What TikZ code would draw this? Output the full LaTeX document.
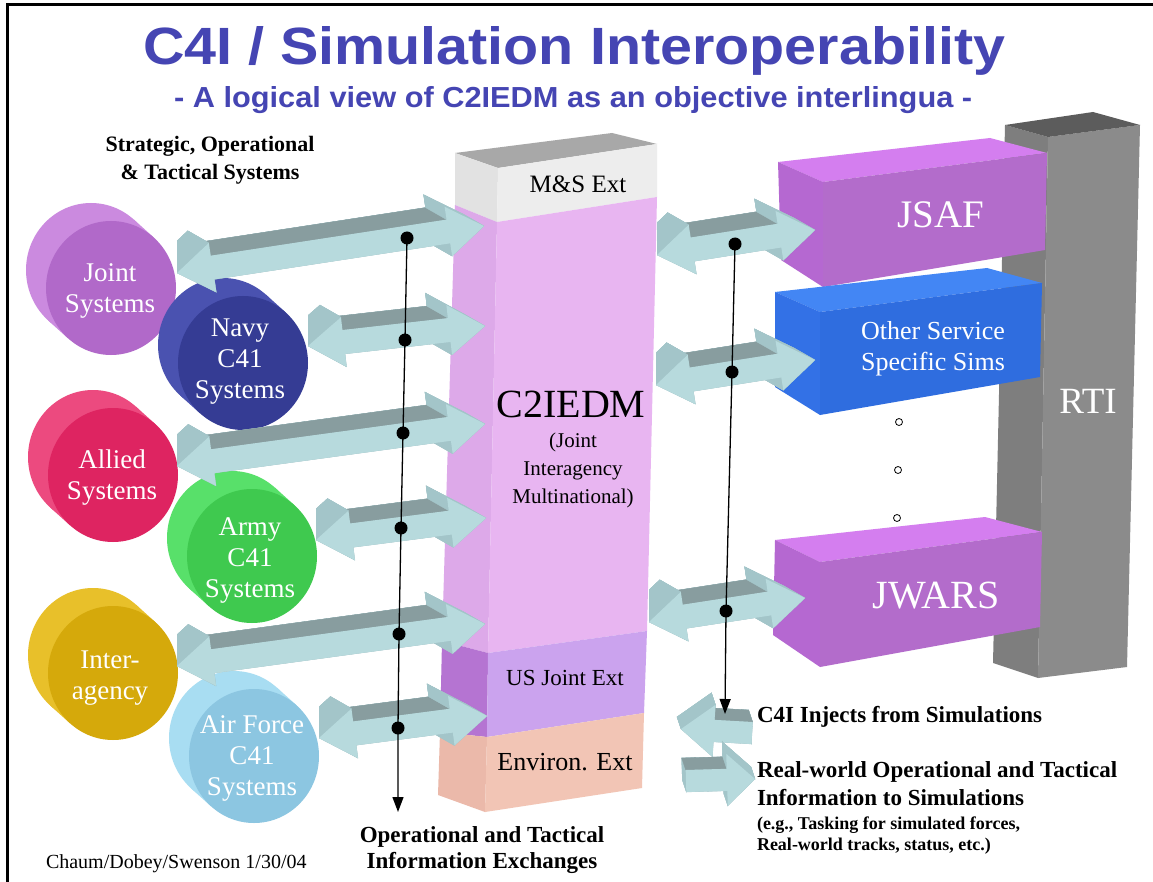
\documentclass[tikz,border=0pt]{standalone}
\usepackage{fontspec}
\setmainfont{Liberation Serif}
\newfontfamily\sansfont{Liberation Sans}
\usepackage{graphicx}
\usetikzlibrary{calc,arrows.meta}

\definecolor{titleblue}{HTML}{4545B3}
\definecolor{arfront}{HTML}{B7DADD}
\definecolor{arside}{HTML}{A3C5C9}
\definecolor{ardark}{HTML}{889D9F}
\definecolor{jointF}{HTML}{B169C9}\definecolor{jointS}{HTML}{CB8ADF}
\definecolor{navyF}{HTML}{353C94}\definecolor{navyS}{HTML}{4A52B0}
\definecolor{alliedF}{HTML}{DE2461}\definecolor{alliedS}{HTML}{EC4A7F}
\definecolor{armyF}{HTML}{3FC94F}\definecolor{armyS}{HTML}{58E06A}
\definecolor{interF}{HTML}{D5A90B}\definecolor{interS}{HTML}{E8C02A}
\definecolor{airF}{HTML}{8CC6E1}\definecolor{airS}{HTML}{A8DDF2}
\definecolor{msTop}{HTML}{A8A8A8}\definecolor{msSide}{HTML}{E2E2E2}\definecolor{msFront}{HTML}{EDEDED}
\definecolor{cSide}{HTML}{DDA9E9}\definecolor{cFront}{HTML}{E8B5F1}
\definecolor{uSide}{HTML}{B574D2}\definecolor{uFront}{HTML}{CBA3EE}
\definecolor{eSide}{HTML}{EBB9AA}\definecolor{eFront}{HTML}{F2C5B5}
\definecolor{jsTop}{HTML}{D47EEF}\definecolor{jsFront}{HTML}{B36CCB}\definecolor{jsSide}{HTML}{B568D1}
\definecolor{osTop}{HTML}{4386F4}\definecolor{osFront}{HTML}{2F6DDF}\definecolor{osSide}{HTML}{3371E6}
\definecolor{rtTop}{HTML}{5C5C5C}\definecolor{rtSide}{HTML}{7E7E7E}\definecolor{rtFront}{HTML}{8B8B8B}

\newcommand{\lns}[1]{\begin{tabular}[t]{@{}c@{}}#1\end{tabular}}
\newcommand{\lnsl}[1]{\begin{tabular}[t]{@{}l@{}}#1\end{tabular}}

\tikzset{
  txt/.style={inner sep=0pt, outer sep=0pt},
  disclabel/.style={txt, anchor=base, text=white, font={\fontsize{27}{31}\selectfont}},
  collabel/.style={txt, anchor=base, text=black},
  conn/.style={line width=1.3pt, draw=black},
  dotm/.style={fill=black},
  arf/.style={fill=arfront},
  ars/.style={fill=arside, draw=arside, line width=0.3pt},
  ard/.style={fill=ardark, draw=ardark, line width=0.3pt},
}

% double headed 3D block arrow from (#1,#2) to (#3,#4)
\newcommand{\dblarrow}[4]{%
  \pgfmathsetmacro{\adx}{#3-#1}%
  \pgfmathsetmacro{\ady}{#4-#2}%
  \pgfmathsetmacro{\alen}{10*veclen(\adx/10,\ady/10)}%
  \pgfmathsetmacro{\aang}{atan2(-\ady,\adx)}%
  \pgfmathsetmacro{\amid}{\alen-\ahl}%
  \begin{scope}
  \clip (#1,0) rectangle (1153,882);
  \begin{scope}[shift={(#1,#2)},rotate=\aang]
    \coordinate (q1) at (0,0);
    \coordinate (q2) at (\ahl,-\ahw);
    \coordinate (q3) at (\ahl,-\asw);
    \coordinate (q4) at (\amid,-\asw);
    \coordinate (q5) at (\amid,-\ahw);
    \coordinate (q6) at (\alen,0);
    \coordinate (q7) at (\amid,\ahw);
    \coordinate (q8) at (\amid,\asw);
    \coordinate (q9) at (\ahl,\asw);
    \coordinate (q10) at (\ahl,\ahw);
  \end{scope}
  \foreach \i in {1,...,10}{\coordinate (b\i) at ($(q\i)+(\asx,\asy)$);}
  \fill[ars] (b1)--(b2)--(b3)--(b4)--(b5)--(b6)--(b7)--(b8)--(b9)--(b10)--cycle;
  \foreach \i/\j in {1/2,2/3,3/4,4/5,5/6,6/7,7/8,8/9,9/10,10/1}{\fill[ars] (q\i)--(q\j)--(b\j)--(b\i)--cycle;}
  \fill[ard] (q3)--(q4)--(b4)--(b3)--cycle;
  \fill[ars] (q4)--(q5)--(b5)--(b4)--cycle;
  \fill[ars] (q1)--(q2)--(b2)--(b1)--cycle;
  \fill[arf] (q1)--(q2)--(q3)--(q4)--(q5)--(q6)--(q7)--(q8)--(q9)--(q10)--cycle;
  \end{scope}
}

% single headed 3D block arrow, head at (#3,#4); #5 = 1 (rightward) or -1 (leftward)
\newcommand{\sglarrow}[5]{%
  \pgfmathsetmacro{\adx}{#3-#1}%
  \pgfmathsetmacro{\ady}{#4-#2}%
  \pgfmathsetmacro{\alen}{10*veclen(\adx/10,\ady/10)}%
  \pgfmathsetmacro{\aang}{atan2(-\ady,\adx)}%
  \pgfmathsetmacro{\amid}{\alen-\ahl}%
  \pgfmathsetmacro{\vs}{(#5)*\asw}\pgfmathsetmacro{\nvs}{-1*(#5)*\asw}%
  \pgfmathsetmacro{\vh}{(#5)*\ahw}\pgfmathsetmacro{\nvh}{-1*(#5)*\ahw}%
  \begin{scope}[shift={(#1,#2)},rotate=\aang]
    \coordinate (q1) at (0,\nvs);
    \coordinate (q2) at (\amid,\nvs);
    \coordinate (q3) at (\amid,\nvh);
    \coordinate (q4) at (\alen,0);
    \coordinate (q5) at (\amid,\vh);
    \coordinate (q6) at (\amid,\vs);
    \coordinate (q7) at (0,\vs);
  \end{scope}
  \foreach \i in {1,...,7}{\coordinate (b\i) at ($(q\i)+(\asx,\asy)$);}
  \fill[ars] (b1)--(b2)--(b3)--(b4)--(b5)--(b6)--(b7)--cycle;
  \foreach \i/\j in {1/2,2/3,3/4,4/5,5/6,6/7,7/1}{\fill[ars] (q\i)--(q\j)--(b\j)--(b\i)--cycle;}
  \fill[ard] (q1)--(q2)--(b2)--(b1)--cycle;
  \fill[ars] (q2)--(q3)--(b3)--(b2)--cycle;
  \fill[ars] (q3)--(q4)--(b4)--(b3)--cycle;
  \fill[arf] (q1)--(q2)--(q3)--(q4)--(q5)--(q6)--(q7)--cycle;
}

% 3D disc: name, cx, cy, front colour, side colour
\newcommand{\disc}[5]{%
  \coordinate (#1) at (#2,#3);
  \fill[#5] ($(#1)+(-20,-18)$) ellipse [x radius=65pt, y radius=67pt];
  \fill[#5] ($(#1)+(42.8,-50.5)$) -- ($(#1)+(22.8,-68.5)$) -- ($(#1)+(-62.8,32.5)$) -- ($(#1)+(-42.8,50.5)$) -- cycle;
  \fill[#4] (#1) ellipse [x radius=65pt, y radius=67pt];
}

\begin{document}
\begin{tikzpicture}[x=1pt,y=-1pt]
\useasboundingbox (0,0) rectangle (1153,882);
\fill[white] (0,0) rectangle (1153,882);
\draw[line width=3pt] (7,882) -- (7,5) -- (1153,5);

% titles
\node[txt, anchor=base west, text=titleblue] (title) at (143,65)
  {\resizebox{862pt}{38pt}{\sansfont\bfseries C4I / Simulation Interoperability}};
\node[txt, anchor=base west, text=titleblue] (subtitle) at (174,108)
  {\resizebox{798pt}{21pt}{\sansfont\bfseries - A logical view of C2IEDM as an objective interlingua -}};

\node[txt, anchor=base, font={\fontsize{22}{28}\selectfont\bfseries}] (strat) at (210,152)
  {\lns{Strategic, Operational\\\& Tactical Systems}};

% RTI
\fill[rtSide] (1005,125) -- (1048,137) -- (1038,678) -- (993,663) -- cycle;
\fill[rtFront] (1048,137) -- (1140,125) -- (1127,667) -- (1038,678) -- cycle;
\fill[rtTop] (1005,125) -- (1093,112) -- (1140,125) -- (1048,137) -- cycle;
\node[txt, anchor=base, text=white, font={\fontsize{37}{40}\selectfont}] (rti) at (1088,413) {RTI};

% JSAF
\fill[jsTop] (778,162) -- (990,138) -- (1047,153) -- (823,182) -- cycle;
\fill[jsSide] (778,162) -- (823,182) -- (823,287) -- (781,260) -- cycle;
\fill[jsFront] (823,182) -- (1047,153) -- (1045,250) -- (823,287) -- cycle;
\node[txt, anchor=base, text=white, font={\fontsize{39}{42}\selectfont}] (jsaf) at (941,228) {JSAF};

% Other service
\fill[osTop] (775,292) -- (987,268) -- (1042,283) -- (820,312) -- cycle;
\fill[osSide] (775,292) -- (820,312) -- (820,415) -- (775,387) -- cycle;
\fill[osFront] (820,312) -- (1042,283) -- (1040,377) -- (820,415) -- cycle;
\node[txt, anchor=base, text=white, font={\fontsize{26}{31}\selectfont}] (other) at (933,339)
  {\lns{Other Service\\Specific Sims}};

% JWARS
\fill[jsTop] (775,540) -- (985,517) -- (1042,532) -- (820,562) -- cycle;
\fill[jsSide] (775,540) -- (820,562) -- (820,667) -- (773,635) -- cycle;
\fill[jsFront] (820,562) -- (1042,532) -- (1040,627) -- (820,667) -- cycle;
\node[txt, anchor=base, text=white, font={\fontsize{40}{42}\selectfont}] (jwars) at (936,608) {JWARS};

% ellipsis circles
\draw[line width=0.8pt] (899,422) circle (3.5pt);
\draw[line width=0.8pt] (898,470) circle (3.5pt);
\draw[line width=0.8pt] (897,518) circle (3.5pt);

% right arrows (behind the column)
\def\asw{12}\def\ahw{25}\def\ahl{36}\def\asx{-21}\def\asy{-12}
\dblarrow{657}{255}{815}{230}
\dblarrow{656}{385}{815}{360}
\dblarrow{649}{622}{805}{598}

% central column
\fill[msTop] (455,153) -- (612,133) -- (657,144) -- (498,168) -- cycle;
\fill[msSide] (455,153) -- (498,168) -- (497,222) -- (455,205) -- cycle;
\fill[msFront] (498,168) -- (657,144) -- (657,197) -- (497,222) -- cycle;
\fill[cSide] (455,205) -- (497,222) -- (488,653) -- (442,641) -- cycle;
\fill[cFront] (497,222) -- (657,197) -- (647,631) -- (488,653) -- cycle;
\fill[uSide] (442,641) -- (488,653) -- (487,737) -- (440,732) -- cycle;
\fill[uFront] (488,653) -- (647,631) -- (644,713) -- (487,737) -- cycle;
\fill[eSide] (440,732) -- (487,737) -- (485,812) -- (438,795) -- cycle;
\fill[eFront] (487,737) -- (644,713) -- (642,788) -- (485,812) -- cycle;

\node[collabel, font={\fontsize{25}{28}\selectfont}] (ms) at (578,193) {M\&S Ext};
\node[collabel, font={\fontsize{40}{44}\selectfont}] (c2) at (571,417) {C2IEDM};
\node[collabel, font={\fontsize{21}{28}\selectfont}] (jim) at (573,447) {\lns{(Joint\\Interagency\\Multinational)}};
\node[collabel, font={\fontsize{23}{26}\selectfont}] (usj) at (565,685) {US Joint Ext};
\node[collabel, font={\fontsize{26}{28}\selectfont}] (env) at (565,770) {Environ. Ext};

% discs
\disc{joint}{111}{288}{jointF}{jointS}
\disc{allied}{113}{475}{alliedF}{alliedS}
\disc{inter}{113}{673}{interF}{interS}
\disc{navy}{243}{363}{navyF}{navyS}
\disc{army}{252}{556}{armyF}{armyS}
\disc{air}{254}{756}{airF}{airS}

\node[disclabel] (jointlbl) at (110,282) {\lns{Joint\\Systems}};
\node[disclabel] (navylbl) at (240,337) {\lns{Navy\\C41\\Systems}};
\node[disclabel] (alliedlbl) at (112,468) {\lns{Allied\\Systems}};
\node[disclabel] (armylbl) at (250,535) {\lns{Army\\C41\\Systems}};
\node[disclabel] (interlbl) at (110,668) {\lns{Inter-\\agency}};
\node[disclabel] (airlbl) at (252,733) {\lns{Air Force\\C41\\Systems}};

% left arrows
\dblarrow{177}{273}{484}{226}
\dblarrow{308}{346}{485}{326}
\dblarrow{177}{466}{485}{424}
\dblarrow{316}{540}{486}{518}
\dblarrow{177}{666}{485}{624}
\dblarrow{319}{738}{487}{716}

% legend arrows
\begin{scope}
\def\asw{11}\def\ahw{26}\def\ahl{33}\def\asx{-4}\def\asy{-12}
\sglarrow{752}{733}{681}{729}{-1}
\def\ahl{28}
\sglarrow{686}{781}{755}{779}{1}
\end{scope}

% connectors
\coordinate (L1) at (407,238);
\coordinate (L2) at (405,340);
\coordinate (L3) at (403,433);
\coordinate (L4) at (401,528);
\coordinate (L5) at (399,634);
\coordinate (L6) at (398,728);
\coordinate (Lend) at (398,812);
\coordinate (R1) at (735,244);
\coordinate (R2) at (732,372);
\coordinate (R3) at (726,611);
\coordinate (Rend) at (725,714);
\draw[conn, -{Triangle[length=15pt,width=11pt]}] (L1) -- (L2) -- (L3) -- (L4) -- (L5) -- (L6) -- (Lend);
\draw[conn, -{Triangle[length=15pt,width=11pt]}] (R1) -- (R2) -- (R3) -- (Rend);
\foreach \d in {L1,L2,L3,L4,L5,L6,R1,R2,R3}{\fill[dotm] (\d) circle (6.5pt);}

% legend text
\node[txt, anchor=base west, font={\fontsize{23}{28}\selectfont\bfseries}] (leg1) at (757,722) {C4I Injects from Simulations};
\node[txt, anchor=base west, font={\fontsize{23}{28}\selectfont\bfseries}] (leg2) at (757,777)
  {\lnsl{Real-world Operational and Tactical\\Information to Simulations}};
\node[txt, anchor=base west, font={\fontsize{18}{21}\selectfont\bfseries}] (leg3) at (757,829)
  {\lnsl{(e.g., Tasking for simulated forces,\\Real-world tracks, status, etc.)}};

% bottom texts
\node[txt, anchor=base, font={\fontsize{23}{26}\selectfont\bfseries}] (opinfo) at (482,842)
  {\lns{Operational and Tactical\\Information Exchanges}};
\node[txt, anchor=base west, font={\fontsize{20}{22}\selectfont}] (credit) at (46,868) {Chaum/Dobey/Swenson 1/30/04};
\end{tikzpicture}
\end{document}
